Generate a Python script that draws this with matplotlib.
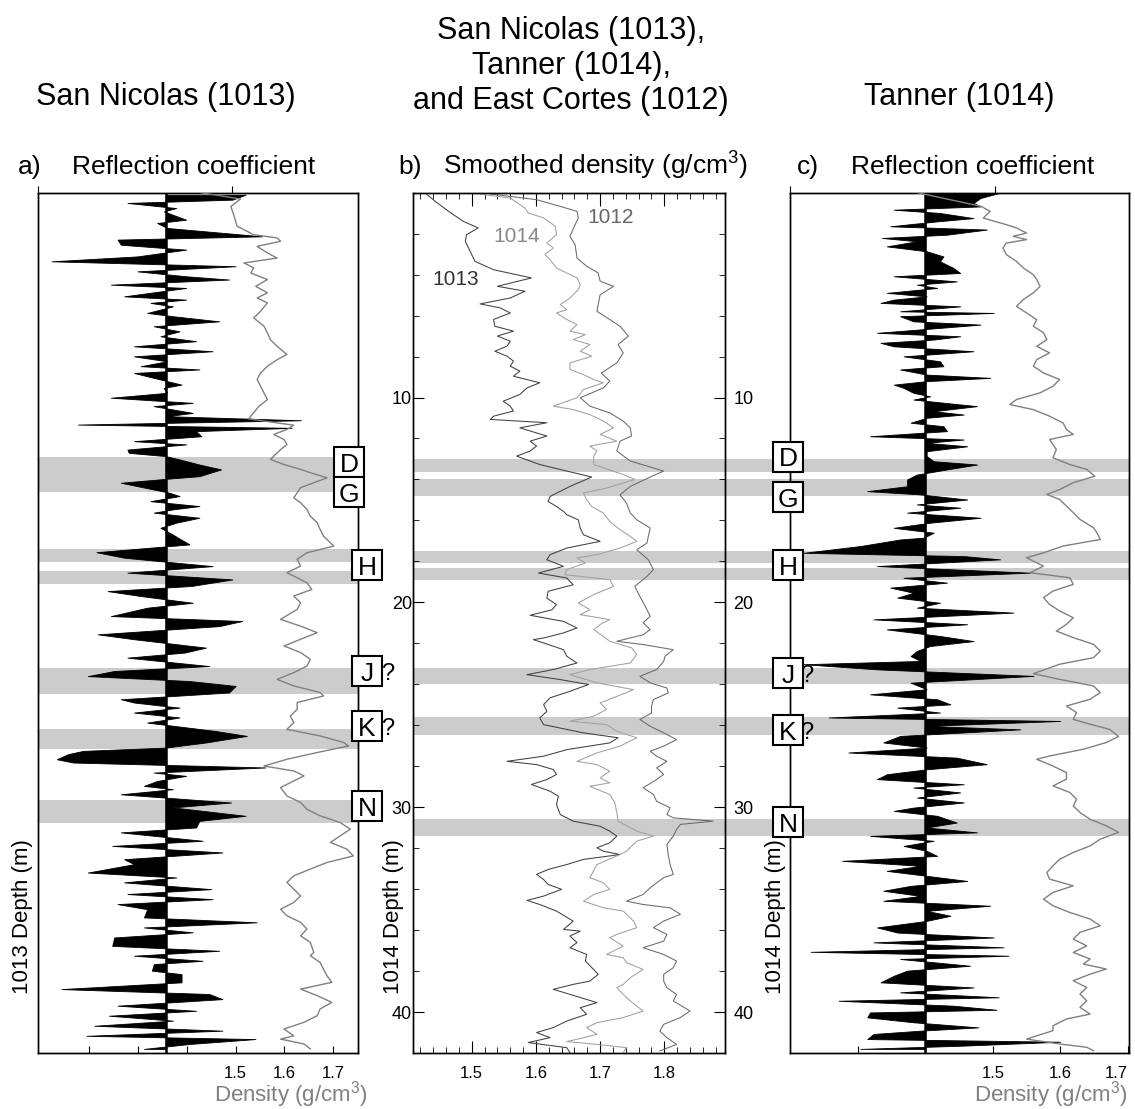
import numpy as np
import matplotlib
matplotlib.use('Agg')
import matplotlib.pyplot as plt
from matplotlib.ticker import MultipleLocator, FixedLocator
from matplotlib.transforms import blended_transform_factory

plt.rcParams['font.family'] = ['Liberation Sans', 'DejaVu Sans']
plt.rcParams['axes.linewidth'] = 1.0

# ---------------- data (depth in m) ----------------
# a) San Nicolas (1013): reflection coefficient (depth, rc)
a_rc = [
    (0.10, 0.121), (0.34, 0.101), (0.50, -0.058), (0.75, 0.016), (0.91, -0.003), (1.32, 0.031), (1.48, -0.013), (1.72, 0.002), (2.13, 0.146), (2.29, -0.073),
    (2.54, -0.068), (2.78, 0.031), (3.11, -0.043), (3.35, -0.173), (3.59, 0.106), (3.84, -0.043), (4.08, 0.031), (4.24, 0.096), (4.49, -0.083), (4.65, 0.031),
    (5.06, -0.063), (5.22, 0.031), (5.38, -0.023), (5.55, 0.011), (5.87, -0.028), (6.03, 0.011), (6.28, 0.081), (6.52, -0.018), (6.77, 0.021), (7.01, -0.008),
    (7.25, 0.046), (7.50, -0.048), (7.74, 0.071), (7.99, -0.048), (8.23, 0.002), (8.47, -0.038), (8.63, 0.051), (8.80, -0.048), (9.04, -0.018), (9.37, 0.024),
    (9.53, -0.003), (9.77, 0.002), (10.01, -0.083), (10.26, 0.041), (10.42, -0.018), (10.75, 0.041), (10.91, 0.002), (11.11, 0.205), (11.32, -0.133), (11.48, 0.191),
    (11.64, 0.046), (11.89, 0.054), (12.13, -0.048), (12.29, 0.031), (12.54, -0.058), (12.70, -0.056), (12.86, 0.0), (13.02, 0.021), (13.27, 0.051), (13.51, 0.084),
    (13.84, 0.051), (13.97, 0.0), (14.16, -0.068), (14.49, -0.018), (14.65, 0.006), (14.81, 0.021), (15.06, -0.023), (15.30, 0.051), (15.46, 0.011), (15.62, -0.018),
    (15.87, 0.051), (16.11, 0.016), (16.36, -0.008), (16.60, 0.006), (17.17, 0.036), (17.55, -0.105), (17.82, -0.063), (18.23, 0.071), (18.55, -0.058), (18.88, 0.101),
    (19.20, 0.039), (19.45, -0.088), (19.69, -0.038), (20.02, 0.041), (20.26, -0.028), (20.67, -0.083), (20.91, 0.116), (21.16, 0.081), (21.56, -0.103), (21.80, -0.048),
    (22.21, 0.061), (22.45, 0.029), (22.70, -0.058), (23.11, 0.066), (23.35, -0.078), (23.60, -0.118), (23.84, 0.036), (24.08, 0.106), (24.40, 0.096), (24.73, -0.068),
    (24.89, -0.048), (25.14, 0.021), (25.38, -0.048), (25.62, 0.021), (25.87, -0.028), (26.28, 0.076), (26.52, 0.123), (26.84, 0.061), (27.09, 0.0), (27.25, -0.125),
    (27.41, -0.148), (27.66, -0.165), (27.82, -0.140), (28.06, 0.151), (28.31, -0.018), (28.47, 0.031), (28.72, -0.013), (28.96, -0.033), (29.12, 0.011), (29.37, -0.068),
    (29.77, 0.099), (30.01, 0.011), (30.42, 0.121), (30.67, 0.051), (30.99, 0.046), (31.23, -0.068), (31.64, 0.056), (31.89, -0.081), (32.21, 0.086), (32.54, -0.063),
    (32.78, -0.048), (33.19, -0.118), (33.43, 0.016), (33.67, -0.063), (34.00, 0.069), (34.24, -0.058), (34.49, 0.071), (34.73, -0.073), (34.98, -0.028), (35.38, -0.033),
    (35.62, 0.138), (35.87, -0.033), (36.11, 0.041), (36.36, -0.078), (36.77, -0.081), (37.01, 0.081), (37.25, -0.048), (37.50, 0.056), (37.66, -0.018), (37.98, -0.021),
    (38.15, 0.024), (38.55, 0.024), (38.88, -0.158), (39.12, 0.066), (39.37, 0.086), (39.69, -0.073), (39.94, 0.046), (40.18, -0.086), (40.42, 0.011), (40.67, -0.108),
    (40.91, 0.086), (41.16, -0.120), (41.32, 0.136), (41.56, 0.036), (41.80, -0.033),
]

# a) San Nicolas (1013): density (depth, g/cm3)
a_dens = [
    (0.0, 1.429), (0.31, 1.510), (0.67, 1.490), (1.16, 1.497), (1.64, 1.503), (2.05, 1.537), (2.21, 1.585), (2.37, 1.592), (2.62, 1.544), (2.94, 1.565),
    (3.19, 1.585), (3.43, 1.517), (3.67, 1.537), (3.92, 1.531), (4.24, 1.565), (4.57, 1.541), (4.89, 1.565), (5.14, 1.544), (5.38, 1.565), (5.79, 1.551),
    (6.11, 1.537), (6.52, 1.558), (6.84, 1.565), (7.17, 1.571), (7.50, 1.585), (7.90, 1.605), (8.15, 1.585), (8.47, 1.565), (8.80, 1.551), (9.12, 1.544),
    (9.45, 1.551), (9.77, 1.558), (10.10, 1.565), (10.42, 1.548), (10.91, 1.531), (11.04, 1.527), (11.24, 1.585), (11.35, 1.619), (11.56, 1.605), (11.80, 1.578),
    (12.05, 1.599), (12.29, 1.605), (12.54, 1.592), (12.86, 1.578), (13.02, 1.571), (13.27, 1.599), (13.51, 1.633), (13.67, 1.653), (13.92, 1.687), (14.16, 1.660),
    (14.40, 1.633), (14.65, 1.626), (14.89, 1.619), (15.14, 1.633), (15.46, 1.646), (15.79, 1.653), (16.11, 1.667), (16.44, 1.673), (16.77, 1.680), (17.25, 1.701),
    (17.58, 1.646), (17.90, 1.626), (18.23, 1.633), (18.55, 1.605), (19.04, 1.646), (19.37, 1.656), (19.69, 1.619), (20.02, 1.633), (20.34, 1.626), (20.83, 1.592),
    (21.16, 1.633), (21.48, 1.667), (21.80, 1.633), (22.13, 1.599), (22.45, 1.633), (22.78, 1.653), (23.11, 1.646), (23.43, 1.619), (23.76, 1.585), (24.08, 1.619),
    (24.40, 1.673), (24.57, 1.680), (24.89, 1.626), (25.22, 1.626), (25.55, 1.612), (25.87, 1.619), (26.20, 1.605), (26.52, 1.673), (26.84, 1.721), (27.01, 1.731),
    (27.33, 1.667), (27.66, 1.605), (27.99, 1.558), (28.23, 1.619), (28.47, 1.640), (28.72, 1.619), (29.04, 1.592), (29.45, 1.605), (29.77, 1.633), (30.10, 1.646),
    (30.42, 1.673), (30.75, 1.714), (31.07, 1.735), (31.40, 1.714), (31.72, 1.694), (32.05, 1.728), (32.38, 1.741), (32.70, 1.687), (33.02, 1.653), (33.35, 1.619),
    (33.67, 1.605), (34.00, 1.619), (34.33, 1.633), (34.65, 1.619), (34.98, 1.592), (35.30, 1.605), (35.62, 1.633), (35.95, 1.646), (36.28, 1.633), (36.60, 1.653),
    (37.09, 1.660), (37.25, 1.653), (37.58, 1.673), (37.90, 1.680), (38.23, 1.687), (38.55, 1.697), (38.88, 1.633), (39.20, 1.667), (39.53, 1.697), (39.85, 1.673),
    (40.18, 1.667), (40.50, 1.640), (40.83, 1.599), (41.16, 1.619), (41.32, 1.592), (41.56, 1.640), (41.80, 1.653),
]

# b) smoothed density, plotted against 1014 depth
b_1013 = [
    (0.0, 1.427), (0.42, 1.443), (0.91, 1.464), (1.40, 1.487), (1.72, 1.510), (2.05, 1.492), (2.37, 1.490), (2.70, 1.495), (3.02, 1.500), (3.35, 1.505),
    (3.76, 1.534), (4.16, 1.593), (4.57, 1.540), (4.81, 1.583), (5.14, 1.560), (5.43, 1.513), (5.62, 1.544), (5.87, 1.560), (6.19, 1.534), (6.52, 1.536),
    (6.76, 1.565), (7.00, 1.540), (7.25, 1.560), (7.49, 1.555), (7.74, 1.536), (7.98, 1.555), (8.22, 1.565), (8.47, 1.560), (8.71, 1.575), (8.96, 1.565),
    (9.28, 1.606), (9.53, 1.586), (9.85, 1.575), (10.18, 1.549), (10.42, 1.560), (10.66, 1.565), (10.91, 1.534), (11.07, 1.529), (11.23, 1.617), (11.48, 1.575),
    (11.88, 1.617), (12.13, 1.591), (12.37, 1.601), (12.61, 1.591), (12.86, 1.570), (13.27, 1.606), (13.59, 1.648), (13.88, 1.687), (14.34, 1.653), (14.83, 1.622),
    (15.07, 1.619), (15.32, 1.632), (15.56, 1.643), (15.72, 1.648), (15.97, 1.666), (16.37, 1.669), (16.70, 1.674), (17.02, 1.700), (17.35, 1.648), (17.67, 1.622),
    (17.92, 1.617), (18.24, 1.643), (18.57, 1.604), (18.81, 1.648), (19.14, 1.658), (19.46, 1.619), (19.79, 1.617), (20.11, 1.632), (20.36, 1.625), (20.63, 1.591),
    (20.93, 1.643), (21.25, 1.664), (21.49, 1.643), (21.74, 1.612), (21.82, 1.596), (21.98, 1.612), (22.31, 1.643), (22.63, 1.648), (22.96, 1.664), (23.28, 1.627),
    (23.53, 1.586), (23.77, 1.638), (24.01, 1.682), (24.34, 1.653), (24.66, 1.622), (24.99, 1.612), (25.32, 1.617), (25.64, 1.606), (25.97, 1.612), (26.37, 1.674),
    (26.61, 1.728), (26.86, 1.715), (27.19, 1.648), (27.51, 1.612), (27.76, 1.555), (27.92, 1.601), (28.16, 1.627), (28.40, 1.632), (28.65, 1.617), (28.89, 1.593),
    (29.22, 1.622), (29.46, 1.635), (29.87, 1.632), (30.36, 1.638), (30.68, 1.658), (30.93, 1.700), (31.17, 1.715), (31.41, 1.726), (31.74, 1.715), (31.98, 1.695),
    (32.15, 1.705), (32.31, 1.731), (32.55, 1.674), (32.80, 1.648), (33.04, 1.619), (33.28, 1.601), (33.53, 1.612), (33.77, 1.619), (34.01, 1.640), (34.34, 1.612),
    (34.55, 1.586), (34.75, 1.606), (35.07, 1.632), (35.56, 1.658), (35.97, 1.643), (36.05, 1.669), (36.29, 1.653), (36.61, 1.664), (36.86, 1.653), (37.19, 1.679),
    (37.51, 1.677), (37.83, 1.687), (38.16, 1.697), (38.49, 1.684), (38.65, 1.658), (38.89, 1.627), (39.14, 1.653), (39.54, 1.695), (39.79, 1.669), (40.11, 1.679),
    (40.44, 1.648), (40.76, 1.627), (41.00, 1.601), (41.25, 1.622), (41.49, 1.588), (41.74, 1.648), (41.98, 1.653),
]

b_1014 = [
    (0.0, 1.497), (0.26, 1.560), (0.75, 1.583), (0.99, 1.588), (1.23, 1.612), (1.64, 1.630), (2.05, 1.632), (2.45, 1.617), (2.70, 1.627), (3.02, 1.614),
    (3.27, 1.622), (3.67, 1.632), (3.92, 1.648), (4.16, 1.664), (4.49, 1.669), (4.73, 1.666), (5.14, 1.653), (5.46, 1.638), (5.71, 1.648), (5.87, 1.632),
    (6.19, 1.648), (6.44, 1.664), (6.76, 1.653), (6.93, 1.677), (7.17, 1.658), (7.41, 1.684), (7.74, 1.669), (7.98, 1.687), (8.31, 1.653), (8.63, 1.653),
    (8.88, 1.674), (9.12, 1.690), (9.28, 1.705), (9.61, 1.674), (10.01, 1.664), (10.42, 1.627), (10.59, 1.658), (10.83, 1.684), (11.15, 1.705), (11.48, 1.721),
    (11.80, 1.700), (12.13, 1.726), (12.37, 1.684), (12.61, 1.695), (12.86, 1.690), (13.27, 1.690), (13.76, 1.736), (14.00, 1.754), (14.42, 1.710), (14.66, 1.674),
    (14.99, 1.679), (15.32, 1.687), (15.64, 1.705), (16.05, 1.715), (16.45, 1.731), (16.78, 1.747), (17.02, 1.757), (17.35, 1.731), (17.67, 1.695), (17.83, 1.664),
    (18.08, 1.677), (18.40, 1.648), (18.65, 1.645), (18.89, 1.715), (19.22, 1.721), (19.62, 1.690), (20.03, 1.666), (20.36, 1.684), (20.60, 1.669), (20.84, 1.715),
    (21.04, 1.702), (21.33, 1.690), (21.66, 1.705), (21.90, 1.715), (22.22, 1.749), (22.55, 1.757), (22.96, 1.747), (23.28, 1.684), (23.53, 1.653), (23.93, 1.695),
    (24.26, 1.752), (24.59, 1.726), (24.91, 1.700), (25.23, 1.710), (25.56, 1.690), (25.80, 1.653), (25.97, 1.710), (26.29, 1.726), (26.61, 1.757), (27.02, 1.731),
    (27.35, 1.695), (27.76, 1.664), (27.92, 1.695), (28.24, 1.715), (28.57, 1.700), (28.81, 1.715), (28.98, 1.684), (29.38, 1.715), (29.79, 1.723), (30.27, 1.726),
    (30.68, 1.728), (31.17, 1.757), (31.41, 1.783), (31.66, 1.757), (32.15, 1.741), (32.31, 1.731), (32.80, 1.695), (33.44, 1.684), (33.69, 1.705), (34.01, 1.715),
    (34.26, 1.690), (34.59, 1.674), (34.91, 1.705), (35.07, 1.736), (35.56, 1.752), (35.88, 1.757), (36.21, 1.726), (36.37, 1.715), (36.78, 1.736), (37.19, 1.710),
    (37.35, 1.736), (37.59, 1.741), (37.92, 1.767), (38.32, 1.747), (38.65, 1.736), (38.81, 1.726), (39.14, 1.736), (39.46, 1.747), (39.95, 1.767), (40.27, 1.736),
    (40.52, 1.695), (40.76, 1.679), (41.09, 1.695), (41.33, 1.664), (41.44, 1.648), (41.58, 1.695), (41.74, 1.741), (41.98, 1.736),
]

b_1012 = [
    (0.06, 1.529), (0.34, 1.601), (0.67, 1.638), (0.91, 1.664), (1.23, 1.666), (1.56, 1.661), (2.13, 1.653), (2.54, 1.661), (3.19, 1.664), (3.59, 1.679),
    (3.92, 1.697), (4.32, 1.700), (4.57, 1.721), (4.98, 1.700), (5.79, 1.695), (6.19, 1.715), (6.52, 1.731), (7.00, 1.744), (7.41, 1.728), (7.82, 1.736),
    (8.31, 1.726), (8.80, 1.702), (9.20, 1.715), (9.53, 1.705), (10.01, 1.669), (10.42, 1.684), (10.75, 1.715), (11.15, 1.736), (11.48, 1.747), (11.88, 1.749),
    (12.13, 1.731), (12.61, 1.726), (13.10, 1.747), (13.59, 1.799), (13.88, 1.778), (14.34, 1.747), (14.75, 1.731), (15.15, 1.741), (15.64, 1.747), (15.97, 1.757),
    (16.37, 1.778), (16.78, 1.775), (17.10, 1.773), (17.43, 1.757), (17.92, 1.775), (18.40, 1.783), (18.73, 1.773), (19.22, 1.754), (19.71, 1.762), (20.36, 1.773),
    (20.68, 1.778), (21.00, 1.767), (21.33, 1.778), (21.58, 1.767), (21.90, 1.726), (22.06, 1.767), (22.31, 1.814), (22.63, 1.801), (22.88, 1.799), (23.28, 1.788),
    (23.61, 1.762), (23.93, 1.778), (24.18, 1.804), (24.42, 1.806), (24.75, 1.783), (25.07, 1.780), (25.40, 1.780), (25.72, 1.762), (26.05, 1.778), (26.37, 1.799),
    (26.70, 1.819), (27.02, 1.799), (27.27, 1.778), (27.51, 1.788), (27.76, 1.804), (28.08, 1.788), (28.40, 1.799), (28.65, 1.788), (29.05, 1.767), (29.38, 1.783),
    (29.71, 1.788), (30.03, 1.809), (30.36, 1.804), (30.52, 1.814), (30.68, 1.876), (30.84, 1.825), (31.09, 1.819), (31.41, 1.814), (31.82, 1.804), (32.31, 1.806),
    (32.80, 1.809), (33.28, 1.814), (33.44, 1.799), (33.69, 1.788), (33.93, 1.778), (34.26, 1.767), (34.59, 1.741), (34.75, 1.767), (34.91, 1.809), (35.23, 1.825),
    (35.56, 1.799), (35.88, 1.783), (36.21, 1.804), (36.54, 1.799), (36.86, 1.767), (37.19, 1.799), (37.51, 1.819), (37.83, 1.814), (38.16, 1.799), (38.49, 1.799),
    (38.81, 1.804), (39.14, 1.819), (39.46, 1.814), (39.95, 1.840), (40.27, 1.825), (40.60, 1.799), (40.93, 1.793), (41.25, 1.804), (41.58, 1.819), (41.90, 1.793),
]

# c) Tanner (1014): reflection coefficient (depth, rc)
c_rc = [
    (0.02, 0.105), (0.26, 0.079), (0.50, 0.069), (0.67, 0.079), (0.83, -0.045), (0.99, 0.021), (1.24, 0.069), (1.40, 0.017), (1.64, -0.050), (1.80, 0.088),
    (2.05, 0.031), (2.21, -0.062), (2.37, -0.012), (2.62, -0.055), (2.86, 0.002), (3.11, 0.026), (3.35, 0.021), (3.67, 0.040), (3.92, 0.050), (4.08, -0.045),
    (4.33, 0.045), (4.49, -0.012), (4.65, 0.017), (4.89, -0.055), (5.06, 0.002), (5.22, -0.045), (5.38, -0.064), (5.55, 0.050), (5.79, -0.036), (5.87, 0.098),
    (6.03, -0.036), (6.28, -0.017), (6.44, 0.079), (6.60, 0.021), (6.84, -0.069), (7.01, 0.050), (7.17, 0.012), (7.33, -0.064), (7.50, -0.045), (7.74, 0.069),
    (7.99, -0.031), (8.23, 0.021), (8.47, 0.026), (8.63, -0.036), (8.88, 0.002), (9.04, 0.093), (9.20, 0.002), (9.37, -0.045), (9.53, -0.031), (9.77, -0.017),
    (9.94, 0.007), (10.10, -0.017), (10.42, 0.074), (10.67, 0.012), (10.83, 0.055), (10.99, 0.002), (11.23, -0.021), (11.40, 0.026), (11.64, 0.031), (11.89, -0.079),
    (12.05, 0.055), (12.21, 0.002), (12.38, 0.060), (12.62, 0.002), (12.86, 0.002), (13.11, 0.012), (13.27, 0.074), (13.51, 0.031), (13.76, -0.012), (14.00, -0.026),
    (14.33, -0.026), (14.57, -0.083), (14.73, -0.007), (14.98, 0.060), (15.22, -0.012), (15.38, 0.050), (15.62, -0.026), (15.87, 0.079), (16.11, 0.007), (16.36, -0.045),
    (16.60, 0.012), (16.84, -0.002), (16.93, -0.036), (17.25, -0.093), (17.58, -0.174), (17.74, 0.055), (17.90, 0.107), (18.23, -0.069), (18.55, 0.150), (18.80, -0.031),
    (19.04, 0.031), (19.28, -0.050), (19.53, -0.017), (19.77, -0.040), (20.02, 0.021), (20.26, -0.012), (20.50, 0.126), (20.83, -0.074), (21.07, 0.060), (21.32, -0.055),
    (21.64, 0.021), (21.89, 0.069), (22.13, 0.007), (22.37, -0.012), (22.62, -0.021), (22.86, -0.007), (23.02, -0.174), (23.27, -0.069), (23.59, 0.155), (23.92, -0.021),
    (24.24, 0.002), (24.49, -0.079), (24.73, 0.017), (24.98, 0.036), (25.14, -0.040), (25.38, 0.021), (25.62, -0.138), (25.79, 0.193), (26.03, 0.002), (26.20, 0.136),
    (26.52, -0.036), (26.84, -0.060), (27.09, 0.002), (27.33, -0.110), (27.58, 0.045), (27.90, 0.088), (28.15, 0.002), (28.39, -0.055), (28.63, -0.069), (28.88, 0.055),
    (29.04, -0.017), (29.28, 0.050), (29.53, -0.012), (29.77, 0.055), (30.02, -0.017), (30.18, -0.045), (30.42, 0.017), (30.75, 0.045), (30.99, 0.002), (31.23, 0.074),
    (31.40, -0.079), (31.64, 0.012), (31.89, -0.031), (32.13, 0.002), (32.38, 0.017), (32.62, -0.119), (32.86, -0.007), (33.11, -0.055), (33.35, 0.002), (33.60, 0.060),
    (33.84, -0.021), (34.08, -0.060), (34.33, -0.007), (34.57, -0.060), (34.81, 0.093), (35.06, 0.002), (35.30, 0.036), (35.55, 0.002), (35.87, -0.069), (36.12, -0.040),
    (36.36, 0.098), (36.60, -0.074), (36.84, 0.112), (37.06, -0.164), (37.25, 0.119), (37.41, -0.036), (37.74, 0.064), (37.98, -0.026), (38.23, -0.045), (38.55, -0.064),
    (38.80, 0.069), (39.04, -0.036), (39.28, 0.105), (39.45, -0.124), (39.69, 0.040), (39.89, 0.102), (40.02, -0.079), (40.26, -0.083), (40.50, -0.017), (40.75, 0.076),
    (40.91, -0.007), (41.07, -0.074), (41.32, -0.083), (41.45, 0.193), (41.64, 0.055), (41.80, -0.093),
]

# c) Tanner (1014): density (depth, g/cm3)
c_dens = [
    (0.0, 1.389), (0.67, 1.483), (0.91, 1.496), (1.24, 1.486), (1.56, 1.520), (1.72, 1.535), (1.97, 1.550), (2.13, 1.530), (2.29, 1.550), (2.46, 1.520),
    (2.70, 1.515), (3.02, 1.520), (3.35, 1.535), (3.67, 1.545), (4.00, 1.560), (4.24, 1.565), (4.57, 1.570), (4.89, 1.560), (5.22, 1.545), (5.55, 1.535),
    (5.87, 1.550), (6.20, 1.565), (6.52, 1.560), (6.84, 1.575), (7.17, 1.580), (7.50, 1.565), (7.82, 1.584), (8.15, 1.565), (8.47, 1.560), (8.80, 1.575),
    (9.12, 1.599), (9.45, 1.589), (9.77, 1.570), (10.10, 1.535), (10.34, 1.525), (10.59, 1.560), (10.91, 1.584), (11.24, 1.604), (11.56, 1.609), (11.80, 1.619),
    (12.05, 1.584), (12.29, 1.589), (12.54, 1.594), (12.94, 1.589), (13.27, 1.614), (13.51, 1.639), (13.84, 1.651), (14.16, 1.619), (14.49, 1.599), (14.73, 1.580),
    (14.98, 1.599), (15.30, 1.609), (15.62, 1.619), (15.95, 1.629), (16.36, 1.649), (16.60, 1.654), (16.93, 1.659), (17.25, 1.604), (17.58, 1.575), (17.82, 1.550),
    (18.23, 1.575), (18.55, 1.555), (18.80, 1.614), (19.12, 1.619), (19.45, 1.589), (19.77, 1.575), (20.10, 1.584), (20.42, 1.599), (20.75, 1.619), (21.07, 1.609),
    (21.40, 1.594), (21.72, 1.619), (22.05, 1.649), (22.37, 1.659), (22.70, 1.649), (23.02, 1.599), (23.48, 1.560), (23.76, 1.599), (24.08, 1.649), (24.40, 1.659),
    (24.73, 1.644), (25.06, 1.609), (25.38, 1.624), (25.71, 1.619), (25.95, 1.644), (26.20, 1.673), (26.55, 1.686), (26.84, 1.668), (27.17, 1.634), (27.50, 1.584),
    (27.66, 1.565), (27.99, 1.589), (28.31, 1.609), (28.63, 1.609), (28.96, 1.589), (29.28, 1.614), (29.61, 1.624), (29.94, 1.619), (30.26, 1.629), (30.59, 1.644),
    (30.91, 1.668), (31.23, 1.686), (31.56, 1.659), (31.89, 1.644), (32.21, 1.619), (32.54, 1.599), (32.86, 1.589), (33.19, 1.580), (33.51, 1.584), (33.84, 1.619),
    (34.16, 1.589), (34.49, 1.575), (34.81, 1.589), (35.14, 1.614), (35.46, 1.644), (35.79, 1.659), (36.11, 1.629), (36.44, 1.619), (36.77, 1.639), (37.09, 1.619),
    (37.41, 1.644), (37.66, 1.634), (37.90, 1.668), (38.15, 1.644), (38.47, 1.619), (38.80, 1.639), (39.12, 1.629), (39.45, 1.639), (39.77, 1.629), (40.10, 1.644),
    (40.34, 1.609), (40.67, 1.589), (40.91, 1.589), (41.32, 1.550), (41.56, 1.599), (41.72, 1.639), (41.89, 1.649),
]

# correlated horizons: shaded depth intervals (top, bottom)
a_bands = [(12.89, 14.60), (17.38, 18.01), (18.45, 19.09), (23.19, 24.46), (26.16, 27.14), (29.67, 30.79)]
bc_bands = [(12.99, 13.62), (13.97, 14.80), (17.48, 18.06), (18.31, 18.89), (23.19, 23.97), (25.58, 26.46), (30.60, 31.43)]

# horizon labels: (letter, depth, uncertain)
a_marks = [('D', 13.17, False), ('G', 14.63, False), ('H', 18.20, False),
           ('J', 23.37, True), ('K', 26.05, True), ('N', 29.95, False)]
c_marks = [('D', 12.88, False), ('G', 14.88, False), ('H', 18.20, False),
           ('J', 23.46, True), ('K', 26.24, True), ('N', 30.73, False)]

# ---------------- layout ----------------
W, H = 1135, 1109
fig = plt.figure(figsize=(W / 100, H / 100), dpi=100)


def px_rect(x0, y0, x1, y1):
    return [x0 / W, 1 - y1 / H, (x1 - x0) / W, (y1 - y0) / H]


DMAX = 42
BAND = '#cccccc'
DGRAY = '#808080'
RC_LIM = (-0.1935, 0.2914)


def rc_panel(rect, rc_pts, dens_pts, dens_lim, dens_ticks, bands, marks, mark_x, q_x):
    ax = fig.add_axes(rect)
    for top, bot in bands:
        ax.axhspan(top, bot, color=BAND, lw=0, zorder=0)
    d, r = np.array(rc_pts).T
    ax.fill_betweenx(d, 0, r, facecolor='k', edgecolor='k', lw=0.6, zorder=2)
    ax.axvline(0, color='k', lw=1.8, zorder=3)
    ax.set_xlim(*RC_LIM)
    ax.set_ylim(DMAX, 0)
    ax.set_yticks([])

    axd = ax.twiny()
    dd, dv = np.array(dens_pts).T
    axd.plot(dv, dd, color=DGRAY, lw=1.0, zorder=3)
    axd.set_xlim(*dens_lim)
    axd.set_ylim(DMAX, 0)

    ax.xaxis.tick_top()
    ax.set_xticks([RC_LIM[0], 0.1])
    ax.tick_params(axis='x', direction='out', length=5, labeltop=False, labelbottom=False)
    axd.xaxis.tick_bottom()
    axd.set_xticks(dens_ticks)
    axd.set_xticklabels([f'{t:.1f}' if t >= 1.45 else '' for t in dens_ticks])
    axd.tick_params(axis='x', direction='in', length=5, labelsize=12, pad=9)
    axd.set_yticks([])
    ax.patch.set_visible(False)

    trans = blended_transform_factory(axd.transAxes, axd.transData)
    for i, (letter, depth, unsure) in enumerate(marks):
        mx = mark_x[i] if isinstance(mark_x, list) else mark_x
        axd.plot([mx], [depth], marker='s', ms=21.5, mfc='white', mec='k', mew=1.5,
                 transform=trans, clip_on=False, zorder=6)
        axd.text(mx, depth, letter, transform=trans, ha='center', va='center_baseline',
                 fontsize=19, zorder=7, clip_on=False)
        if unsure:
            axd.text(mx + q_x, depth, '?', transform=trans, ha='center', va='center_baseline',
                     fontsize=17, zorder=7, clip_on=False)
    axd.set_xlim(*dens_lim)
    axd.set_ylim(DMAX, 0)
    return ax, axd


# panel a
rc_panel(px_rect(38, 192.7, 358, 1053), a_rc, a_dens, (1.095, 1.7506),
         [1.2, 1.3, 1.4, 1.5, 1.6, 1.7], a_bands, a_marks,
         [0.973, 0.973, 1.028, 1.028, 1.028, 1.028], 0.066)

# panel b
ax_b = fig.add_axes(px_rect(413.3, 192.7, 725, 1053))
span = (1129 - 413.3) / (725 - 413.3)
for top, bot in bc_bands:
    ax_b.axhspan(top, bot, xmin=0, xmax=span, color=BAND, lw=0, zorder=0, clip_on=False)
for pts, col in [(b_1013, '#404040'), (b_1014, '#a0a0a0'), (b_1012, '#6a6a6a')]:
    dd, dv = np.array(pts).T
    ax_b.plot(dv, dd, color=col, lw=0.75, zorder=3)
ax_b.text(1.6796, 1.23, '1012', color='#666666', fontsize=15, va='center')
ax_b.text(1.533, 2.16, '1014', color='#888888', fontsize=15, va='center')
ax_b.text(1.438, 4.26, '1013', color='#333333', fontsize=15, va='center')
ax_b.set_xlim(1.409, 1.8945)
ax_b.set_ylim(DMAX, 0)
ax_b.xaxis.set_major_locator(MultipleLocator(0.1))
ax_b.xaxis.set_minor_locator(MultipleLocator(0.02))
ax_b.xaxis.set_major_formatter(plt.FuncFormatter(lambda v, _: f'{v:.1f}'))
ax_b.yaxis.set_major_locator(FixedLocator([10, 20, 30, 40]))
ax_b.yaxis.set_minor_locator(FixedLocator(np.arange(2, 42, 2)))
ax_b.tick_params(axis='x', which='major', direction='in', length=9, top=True, bottom=True,
                 labelsize=12, pad=9)
ax_b.tick_params(axis='x', which='minor', direction='in', length=4.5, top=True, bottom=True)
ax_b.tick_params(axis='y', which='major', direction='in', length=8, left=True, right=False,
                 labelsize=13, pad=1)
ax_b.tick_params(axis='y', which='minor', direction='in', length=4, left=True, right=False)

ax_br = ax_b.twinx()
ax_br.set_ylim(DMAX, 0)
ax_br.yaxis.set_major_locator(FixedLocator([10, 20, 30, 40]))
ax_br.yaxis.set_minor_locator(FixedLocator(np.arange(2, 42, 2)))
ax_br.tick_params(axis='y', which='major', direction='in', length=8, labelsize=13, pad=6)
ax_br.tick_params(axis='y', which='minor', direction='in', length=4)

# panel c
_, axd_c = rc_panel(px_rect(790, 192.7, 1129, 1053), c_rc, c_dens, (1.2, 1.7015),
                    [1.3, 1.4, 1.5, 1.6, 1.7], [], c_marks, -0.006, 0.056)
# last density label sits against the right edge, as in the source
axd_c.get_xticklabels()[-1].set_horizontalalignment('right')

# ---------------- text ----------------
TS = 22
fig.text(166 / W, 1 - 97 / H, 'San Nicolas (1013)', ha='center', va='center', fontsize=TS)
fig.text(571 / W, 1 - 66 / H, 'San Nicolas (1013),\nTanner (1014),\nand East Cortes (1012)',
         ha='center', va='center', fontsize=TS, linespacing=1.2)
fig.text(959 / W, 1 - 97 / H, 'Tanner (1014)', ha='center', va='center', fontsize=TS)

PS = 19
yb = 1 - 174 / H
fig.text(18 / W, yb, 'a)', fontsize=PS, va='baseline')
fig.text(194 / W, yb, 'Reflection coefficient', fontsize=PS, va='baseline', ha='center')
fig.text(398 / W, yb, 'b)', fontsize=PS, va='baseline')
fig.text(443 / W, yb, r'Smoothed density (g/cm$^\mathregular{3}$)', fontsize=PS, va='baseline')
fig.text(797 / W, yb, 'c)', fontsize=PS, va='baseline')
fig.text(973 / W, yb, 'Reflection coefficient', fontsize=PS, va='baseline', ha='center')

for x, lab in [(23, '1013 Depth (m)'), (393, '1014 Depth (m)'), (775, '1014 Depth (m)')]:
    fig.text(x / W, 1 - 917 / H, lab, rotation=90, ha='center', va='center', fontsize=16)

for x in (367, 1127):
    fig.text(x / W, 1 - 1095 / H, r'Density (g/cm$^\mathregular{3}$)', ha='right', va='center',
             fontsize=16, color=DGRAY)

fig.savefig('out.png', dpi=100)
